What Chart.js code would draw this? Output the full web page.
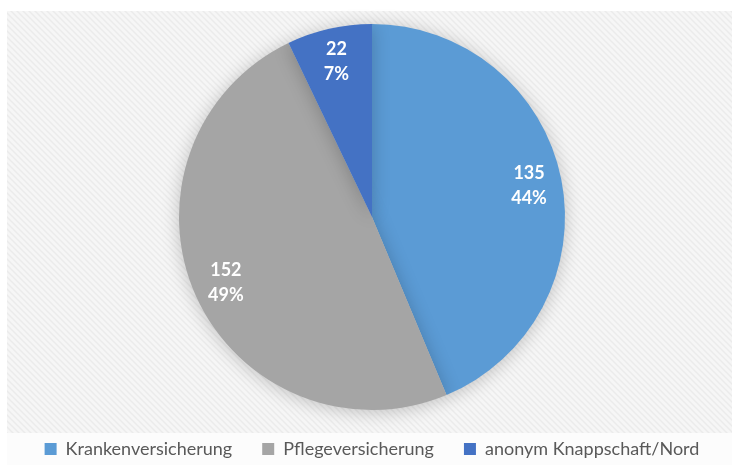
<!DOCTYPE html>
<html>
<head>
<meta charset="utf-8">
<script src="https://cdn.jsdelivr.net/npm/chart.js@4.4.1/dist/chart.umd.min.js"></script>
<style>
  html, body { margin: 0; padding: 0; background: #fff; }
  #wrap { width: 732px; height: 465px; }
</style>
</head>
<body>
<div id="wrap"><canvas id="chart"></canvas></div>
<script>
const labels = ['Krankenversicherung', 'Pflegeversicherung', 'anonym Knappschaft/Nord'];
const values = [135, 152, 22];
const colors = ['#5B9BD5', '#A5A5A5', '#4472C4'];

// striped grey plot background
function makeStripes(ctx) {
  const c = document.createElement('canvas');
  c.width = 6; c.height = 6;
  const p = c.getContext('2d');
  p.fillStyle = '#f6f6f6';
  p.fillRect(0, 0, 6, 6);
  p.strokeStyle = '#ebebeb';
  p.lineWidth = 1.5;
  p.beginPath();
  p.moveTo(0, 0); p.lineTo(6, 6);
  p.moveTo(-3, 3); p.lineTo(3, 9);
  p.moveTo(3, -3); p.lineTo(9, 3);
  p.stroke();
  return ctx.createPattern(c, 'repeat');
}

const background = {
  id: 'background',
  beforeDraw(chart) {
    const ctx = chart.ctx;
    ctx.save();
    ctx.fillStyle = '#ffffff';
    ctx.fillRect(0, 0, chart.width, chart.height);
    ctx.fillStyle = makeStripes(ctx);
    ctx.fillRect(7, 11, chart.width - 7, 422);
    ctx.fillStyle = '#fcfcfc';
    ctx.fillRect(7, 433, chart.width - 7, chart.height - 433);
    ctx.restore();
  }
};

// fixed legend height so the pie keeps its size
const legendHeight = {
  id: 'legendHeight',
  afterInit(chart) {
    const lg = chart.legend;
    const orig = lg.fit;
    lg.fit = function () {
      orig.call(this);
      this.height = 55;
    };
  }
};

const shadow = {
  id: 'shadow',
  beforeDatasetDraw(chart) {
    const ctx = chart.ctx;
    ctx.save();
    ctx.shadowColor = 'rgba(0,0,0,0.22)';
    ctx.shadowBlur = 18;
    ctx.shadowOffsetY = 2;
  },
  afterDatasetDraw(chart) {
    chart.ctx.restore();
  }
};

// value + percent labels inside slices
const sliceLabels = {
  id: 'sliceLabels',
  afterDatasetsDraw(chart) {
    const ctx = chart.ctx;
    const total = values.reduce((a, b) => a + b, 0);
    const meta = chart.getDatasetMeta(0);
    ctx.save();
    ctx.fillStyle = '#ffffff';
    ctx.font = 'bold 18px Lato, "Open Sans", sans-serif';
    ctx.textAlign = 'center';
    ctx.textBaseline = 'middle';
    meta.data.forEach((arc, i) => {
      const mid = (arc.startAngle + arc.endAngle) / 2;
      const r = arc.outerRadius * 0.83;
      const x = arc.x + Math.cos(mid) * r;
      const y = arc.y + Math.sin(mid) * r;
      ctx.fillText(String(values[i]), x, y - 12);
      ctx.fillText(Math.round(values[i] / total * 100) + '%', x, y + 13);
    });
    ctx.restore();
  }
};

new Chart(document.getElementById('chart'), {
  type: 'pie',
  data: {
    labels,
    datasets: [{
      data: values,
      backgroundColor: colors,
      borderWidth: 0
    }]
  },
  options: {
    responsive: true,
    maintainAspectRatio: false,
    animation: false,
    layout: { padding: { top: 24, bottom: 0, left: 12, right: 0 } },
    plugins: {
      legend: {
        position: 'bottom',
        labels: {
          color: '#595959',
          font: { family: 'Lato, "Open Sans", sans-serif', size: 18 },
          boxWidth: 12,
          boxHeight: 12,
          padding: 30
        }
      },
      tooltip: { enabled: false }
    }
  },
  plugins: [background, legendHeight, shadow, sliceLabels]
});
</script>
</body>
</html>
